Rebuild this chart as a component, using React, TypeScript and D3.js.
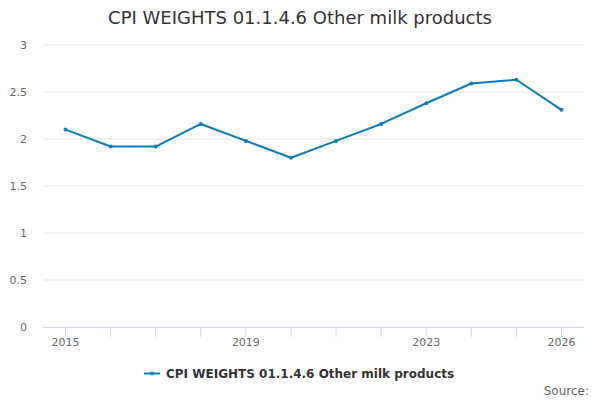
import React from "react";
import * as d3 from "d3";

const years = ["2015","2016","2017","2018","2019","2020","2021","2022","2023","2024","2025","2026"];
const values = [2.1, 1.92, 1.92, 2.16, 1.98, 1.8, 1.98, 2.16, 2.38, 2.59, 2.63, 2.31];
const yTicks = [0, 0.5, 1, 1.5, 2, 2.5, 3];
const xLabels = ["2015", "2019", "2023", "2026"];
const seriesName = "CPI WEIGHTS 01.1.4.6 Other milk products";
const titleText = "CPI WEIGHTS 01.1.4.6 Other milk products";

const W = 600, H = 400;
const left = 43, right = 584, top = 45, bottom = 327;
const color = "#0a7cc1";
const font = "'DejaVu Sans', sans-serif";

export default function App() {
  const x = d3.scaleBand<string>().domain(years).range([left, right]);
  const cx = (d: string) => (x(d) as number) + x.bandwidth() / 2;
  const y = d3.scaleLinear().domain([0, 3]).range([bottom, top]);
  const line = d3.line<number>().x((_, i) => cx(years[i])).y((v) => y(v));
  return (
    <svg width={W} height={H} style={{ position: "absolute", left: 0, top: 0, fontFamily: font }}>
      <rect width={W} height={H} fill="#fff" />
      <text x={W / 2} y={24} textAnchor="middle" fontSize={18} fill="#333">{titleText}</text>
      {yTicks.map((t) => (
        <g key={t}>
          {t !== 0 && <line x1={left} x2={right} y1={y(t)} y2={y(t)} stroke="#e6e6e6" strokeWidth={1} />}
          <text x={27} y={y(t) + 4} textAnchor="end" fontSize={11} fill="#666">{t}</text>
        </g>
      ))}
      <line x1={left} x2={right} y1={bottom + 0.5} y2={bottom + 0.5} stroke="#ccd6eb" strokeWidth={1} />
      {years.map((yr) => (
        <line key={yr} x1={cx(yr)} x2={cx(yr)} y1={bottom} y2={bottom + 10} stroke="#ccd6eb" strokeWidth={1} />
      ))}
      {xLabels.map((yr) => (
        <text key={yr} x={cx(yr)} y={346} textAnchor="middle" fontSize={11} fill="#666">{yr}</text>
      ))}
      <path d={line(values) || ""} fill="none" stroke={color} strokeWidth={2} strokeLinejoin="round" />
      {values.map((v, i) => (
        <circle key={i} cx={cx(years[i])} cy={y(v)} r={2} fill={color} />
      ))}
      <g>
        <line x1={144} x2={160} y1={373.5} y2={373.5} stroke={color} strokeWidth={2} />
        <circle cx={152} cy={373.5} r={2} fill={color} />
        <text x={166} y={378} fontSize={12} fontWeight="bold" fill="#333">{seriesName}</text>
      </g>
      <text x={589} y={395} textAnchor="end" fontSize={12} fill="#666">Source:</text>
    </svg>
  );
}
